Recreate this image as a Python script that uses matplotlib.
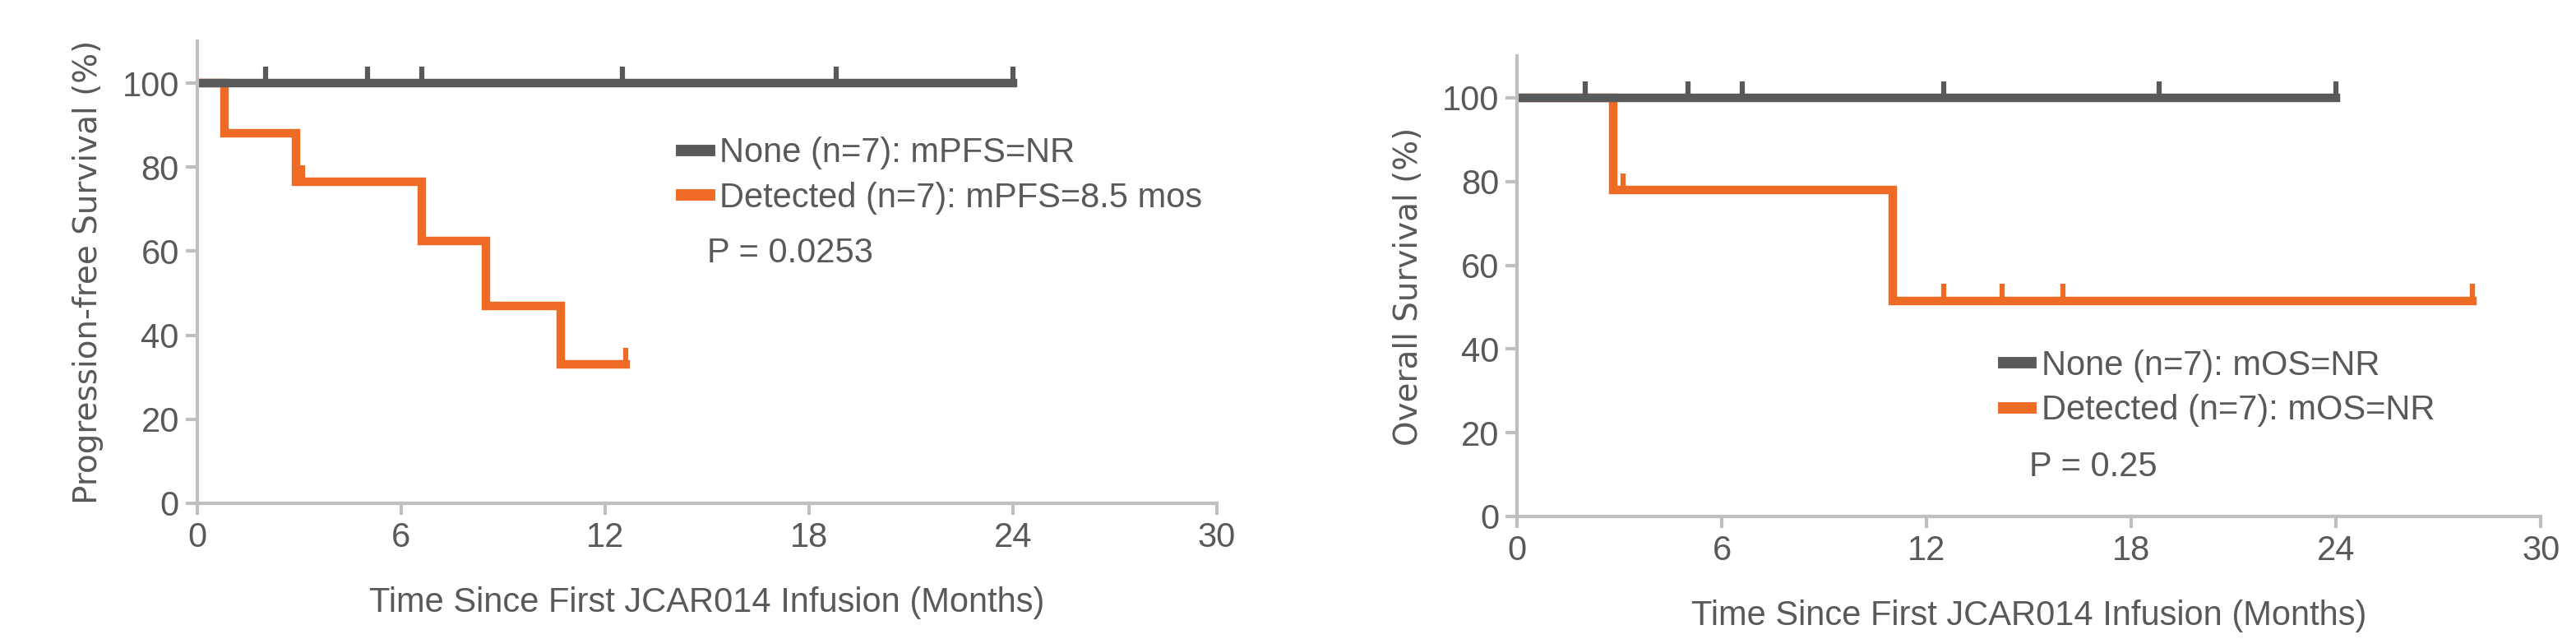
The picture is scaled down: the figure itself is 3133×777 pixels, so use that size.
import matplotlib
matplotlib.use("Agg")
import matplotlib.pyplot as plt
from matplotlib.lines import Line2D

# PFS data
pfs_none_t = [0, 24]
pfs_none_s = [100, 100]
pfs_none_cens = [2.0, 5.0, 6.6, 12.5, 18.8, 24.0]
pfs_det_t = [0, 0.8, 2.9, 6.6, 8.5, 10.7, 12.6]
pfs_det_s = [100, 88, 76.5, 62.5, 47, 33, 33]
pfs_det_cens_t = [3.1, 12.6]
pfs_det_cens_s = [76.5, 33]

# OS data
os_none_t = [0, 24]
os_none_s = [100, 100]
os_none_cens = [2.0, 5.0, 6.6, 12.5, 18.8, 24.0]
os_det_t = [0, 2.8, 11.0, 28.0]
os_det_s = [100, 78, 51.5, 51.5]
os_det_cens_t = [3.1, 12.5, 14.2, 16.0, 28.0]
os_det_cens_s = [78, 51.5, 51.5, 51.5, 51.5]

xticks = [0, 6, 12, 18, 24, 30]
yticks = [0, 20, 40, 60, 80, 100]

GRAY = "#58595b"
ORANGE = "#ee6b25"
SPINE = "#bfbfbf"
TXT = "#595959"
NARROW = ["Liberation Sans Narrow", "Liberation Sans", "DejaVu Sans"]

fig = plt.figure(figsize=(31.33, 7.77), dpi=100)

def draw(ax, none_t, none_s, none_c, det_t, det_s, dct, dcs, ylabel, leg, ptxt, legy, py):
    ax.step(det_t, det_s, where="post", color=ORANGE, lw=7.5, solid_joinstyle="miter")
    ax.step(none_t, none_s, where="post", color=GRAY, lw=7.5)
    ax.vlines(none_c, 100, 104, color=GRAY, lw=4.5)
    ax.vlines(dct, dcs, [s + 4 for s in dcs], color=ORANGE, lw=4.5)
    ax.set_xlim(0, 30)
    ax.set_ylim(0, 110)
    ax.set_xticks(xticks)
    ax.set_yticks(yticks)
    for s in ["top", "right"]:
        ax.spines[s].set_visible(False)
    for s in ["left", "bottom"]:
        ax.spines[s].set_color(SPINE)
        ax.spines[s].set_linewidth(3)
    ax.tick_params(length=10, width=3, color=SPINE, labelcolor=TXT, labelsize=30, pad=6)
    for lab in ax.get_xticklabels() + ax.get_yticklabels():
        lab.set_family(NARROW)
    ax.set_xlabel("Time Since First JCAR014 Infusion (Months)", fontsize=30,
                  family=NARROW, color=TXT, labelpad=28)
    ax.set_ylabel(ylabel, fontsize=28, color=TXT, labelpad=16)
    handles = [Line2D([], [], color=GRAY, lw=10), Line2D([], [], color=ORANGE, lw=10)]
    lg = ax.legend(handles, leg, loc="upper left", bbox_to_anchor=(0.445, legy),
                   frameon=False, handlelength=0.8, handletextpad=0.3,
                   labelspacing=0.35, prop={"family": NARROW, "size": 30})
    for t in lg.get_texts():
        t.set_color(TXT)
    ax.text(0.5, py, ptxt, transform=ax.transAxes, fontsize=30, family=NARROW,
            color=TXT, va="center")

ax1 = fig.add_axes([0.0766, 0.2124, 0.3958, 0.7233])
draw(ax1, pfs_none_t, pfs_none_s, pfs_none_cens, pfs_det_t, pfs_det_s,
     pfs_det_cens_t, pfs_det_cens_s, "Progression-free Survival (%)",
     ["None (n=7): mPFS=NR", "Detected (n=7): mPFS=8.5 mos"], "P = 0.0253", 0.86, 0.54)

ax2 = fig.add_axes([0.589, 0.1918, 0.3974, 0.7207])
draw(ax2, os_none_t, os_none_s, os_none_cens, os_det_t, os_det_s,
     os_det_cens_t, os_det_cens_s, "Overall Survival (%)",
     ["None (n=7): mOS=NR", "Detected (n=7): mOS=NR"], "P = 0.25", 0.43, 0.107)

fig.savefig("out.png", dpi=100)
